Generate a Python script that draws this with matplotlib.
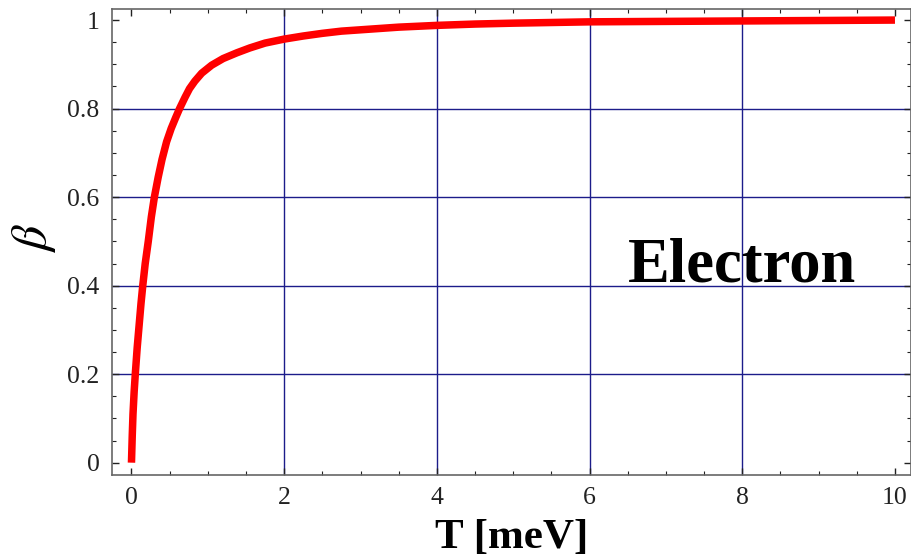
import numpy as np
import matplotlib
matplotlib.use('Agg')
import matplotlib.pyplot as plt
from matplotlib.ticker import MultipleLocator

# values
T = [0, 0.01, 0.02, 0.035, 0.05, 0.075, 0.1, 0.125, 0.148, 0.18, 0.22, 0.26,
     0.30, 0.35, 0.40, 0.46, 0.52, 0.58, 0.63, 0.70, 0.76, 0.83, 0.92, 1.05,
     1.2, 1.38, 1.55, 1.75, 2.0, 2.25, 2.5, 2.75, 3.0, 3.5, 4.0, 4.5, 5.0,
     6.0, 7.0, 8.0, 9.0, 10.0]
beta = [0, 0.06, 0.11, 0.16, 0.20, 0.26, 0.31, 0.36, 0.40, 0.45, 0.50, 0.555,
        0.60, 0.645, 0.685, 0.725, 0.755, 0.78, 0.80, 0.825, 0.845, 0.862,
        0.88, 0.898, 0.913, 0.926, 0.937, 0.948, 0.957, 0.964, 0.970, 0.975,
        0.978, 0.984, 0.988, 0.991, 0.993, 0.996, 0.997, 0.998, 0.999, 1.0]
xgrid = [2, 4, 6, 8]
ygrid = [0.2, 0.4, 0.6, 0.8]
xticks = [0, 2, 4, 6, 8, 10]
yticks = [0, 0.2, 0.4, 0.6, 0.8, 1]
ytick_labels = ['0', '0.2', '0.4', '0.6', '0.8', '1']

plt.rcParams['font.family'] = ['Liberation Serif', 'DejaVu Serif']
plt.rcParams['mathtext.fontset'] = 'stix'

fig = plt.figure(figsize=(9.11, 5.57), dpi=100)
ax = fig.add_axes([112/911, 82.5/557, 799/911, 465.5/557])

for g in xgrid:
    ax.axvline(g, color='#1c1c8a', lw=1.0, zorder=1)
for g in ygrid:
    ax.axhline(g, color='#1c1c8a', lw=1.0, zorder=1)

ax.plot(T, beta, color='#ff0000', lw=5.4, solid_capstyle='butt',
        solid_joinstyle='round', zorder=3)

ax.set_xlim(-0.255, 10.21)
ax.set_ylim(-0.0267, 1.025)
ax.set_xticks(xticks)
ax.set_yticks(yticks)
ax.set_yticklabels(ytick_labels)
ax.xaxis.set_minor_locator(MultipleLocator(0.5))
ax.yaxis.set_minor_locator(MultipleLocator(0.05))
ax.tick_params(which='both', direction='in', top=True, right=True,
               color='#222222', labelsize=18.5, labelcolor='#222222')
ax.tick_params(which='major', length=5, width=1)
ax.tick_params(which='minor', length=3, width=0.8)
ax.tick_params(axis='x', pad=9)
ax.tick_params(axis='y', pad=9)
for s in ax.spines.values():
    s.set_color('#666666')
    s.set_linewidth(1.2)

ax.text(6.50, 0.409, 'Electron', fontsize=45, fontweight='bold',
        ha='left', va='baseline', zorder=4)

fig.text(512/911, 9/557, 'T [meV]', fontsize=31, fontweight='bold',
         ha='center', va='baseline')
fig.text(34/911, 1 - 238/557, r'$\beta$', fontsize=36, rotation=90,
         ha='center', va='center')

fig.savefig('out.png', dpi=100)
